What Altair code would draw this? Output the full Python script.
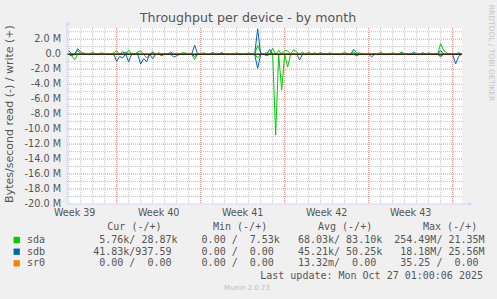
import altair as alt
import pandas as pd

# ---------------- data ----------------
# samples every 6 h; day 0 = Mon Sep 29 (start of Week 40)
T0 = -4.0
DT = 0.25

sda_write = [
    0, 0, 0, 0.5, 0, 0.2, 0, 0, 0.3, 0, 0, 0.2,
    0, 0, 0, 0.2, 0.45, 0, 0, 0, 0.55, 0, 0, 0.3,
    0.45, 0, 0, 0, 0.3, 0, 0.2, 0, 0, 0, 0, 0,
    0, 0, 0.2, 0.15, 0, 0, 0, 0, 0, 0.2, 0, 0,
    0.2, 0, 0, 0.15, 0, 0, 0, 0, 0.2, 0, 0, 0,
    0.2, 0, 0, 1.2, 0.2, 0, 0.2, 0, 0.8, 0, 0.5, 0,
    0.5, 0.45, 0, 0.6, 0.3, 0, 0.3, 0, 0.3, 0, 0.2, 0,
    0, 0, 0, 0.2, 0, 0, 0, 0, 0.3, 0, 0, 0.3,
    0, 0.2, 0, 0, 0, 0, 0, 0, 0.3, 0, 0, 0,
    0.2, 0, 0, 0.3, 0, 0, 0, 0, 0, 0, 0, 0,
    0.2, 0, 0, 0, 1.4, 0.5, 0.2, 0, 0, 0, 0, 0,
]
sda_read = [
    0, -0.2, -0.75, 0, 0, 0, 0, 0, 0, 0, 0, 0,
    0, 0, 0, 0, 0, 0, 0, 0, 0, 0, 0, 0,
    0, 0, -0.5, 0, 0, 0, 0, 0, 0, 0, 0, 0,
    0, 0, 0, 0, 0, 0, -0.7, 0, 0, 0, 0, 0,
    0, 0, 0, 0, 0, 0, 0, 0, 0, 0, 0, 0,
    0, 0, 0, -0.5, 0, 0, 0, 0, 0, -10.8, 0, -4.8,
    0, -1.7, 0, 0, 0, 0, 0, 0, 0, 0, 0, 0,
    0, 0, 0, 0, 0, 0, 0, 0, 0, 0, 0, 0,
    0, 0, 0, 0, 0, 0, 0, 0, 0, 0, 0, 0,
    0, 0, 0, 0, 0, 0, 0, 0, 0, 0, 0, 0,
    0, 0, 0, 0, -0.4, 0, 0, 0, 0, 0, 0, 0,
]
sdb_write = [
    0.5, 0, 0, 0.75, 0.3, 0, 0, 0, 0, 0, 0, 0,
    0, 0, 0, 0, 0, 0, 0.3, 0.2, 0, 0, 0, 0.15,
    0, 0, 0, 0, 0.2, 0, 0, 0, 0, 0, 0.3, 0,
    0, 0, 0, 0, 0, 0, 1.2, 0, 0, 0, 0, 0,
    0.2, 0, 0, 0.22, 0, 0, 0, 0, 0, 0, 0, 0,
    0, 0, 0, 3.4, 0, 0, 0, 0.65, 0, 0, 0, 0,
    0, 0, 0, 0, 0, 0, 0, 0, 0, 0, 0, 0,
    0.2, 0, 0, 0, 0, 0, 0, 0, 0, 0, 0, 0.65,
    0.2, 0, 0, 0, 0, 0, 0, 0, 0, 0, 0, 0,
    0, 0, 0, 0.2, 0, 0, 0, 0.3, 0, 0, 0.2, 0,
    0, 0, 0, 0, 0.5, 0, 0, 0, 0, 0, 0.2, 0,
]
sdb_read = [
    0, -0.2, 0, 0, 0, 0, 0, 0, 0, 0, 0, 0,
    0, 0, 0, 0, -0.95, -0.3, -0.5, 0, -1.0, 0, 0, 0,
    -1.3, -0.6, -1.0, 0, -0.6, 0, 0, -0.2, 0, 0, 0, -0.4,
    -0.2, 0, 0, 0, 0, 0, -0.3, 0, 0, 0, 0, 0,
    0, 0, 0, 0, 0, 0, 0, 0, 0, 0, 0, 0,
    0, 0, 0, -1.9, 0, 0, -0.2, 0, 0, 0, 0, 0,
    0, 0, 0, 0, 0, -0.75, 0, 0, 0, 0, 0, 0,
    0, 0, 0, 0, 0, 0, 0, 0, 0, 0, 0, 0,
    -0.2, 0, 0, 0, 0, -0.35, 0, 0, 0, 0, 0, 0,
    0, 0, 0, 0, 0, 0, 0, 0, 0, 0, 0, 0,
    0, 0, 0, 0, -0.2, 0, 0, 0, 0, -1.3, -0.3, 0,
]
sr0_write = [0.0] * 132
sr0_read = [0.0] * 132

devices = ["sda", "sdb", "sr0"]
device_colors = ["#00CC00", "#0066B3", "#FF8000"]

y_tick_values = [2, 0, -2, -4, -6, -8, -10, -12, -14, -16, -18, -20]
y_tick_labels = ["2.0 M", "0.0", "-2.0 M", "-4.0 M", "-6.0 M", "-8.0 M", "-10.0 M",
                 "-12.0 M", "-14.0 M", "-16.0 M", "-18.0 M", "-20.0 M"]
y_minor_grid = [3, 1, -1, -3, -5, -7, -9, -11, -13, -15, -17, -19]
y_major_grid = [2, -2, -4, -6, -8, -10, -12, -14, -16, -18]
x_minor_grid = list(range(-4, 29))
x_major_grid = [0, 7, 14, 21, 28]
week_label_days = [-3.5, 3.5, 10.5, 17.5, 24.5]
week_labels = ["Week 39", "Week 40", "Week 41", "Week 42", "Week 43"]

legend_names = ["sda", "sdb", "sr0"]
cur_vals = ["  5.76k/ 28.87k", " 41.83k/937.59 ", "  0.00 /  0.00 "]
min_vals = ["  0.00 /  7.53k", "  0.00 /  0.00 ", "  0.00 /  0.00 "]
avg_vals = [" 68.03k/ 83.10k", " 45.21k/ 50.25k", " 13.32m/  0.00 "]
max_vals = ["254.49M/ 21.35M", " 18.18M/ 25.56M", " 35.25 /  0.00 "]
headers = ["Cur (-/+)", "Min (-/+)", "Avg (-/+)", "Max (-/+)"]
last_update = "Last update: Mon Oct 27 01:00:06 2025"

# ---------------- build table ----------------
series = [("sda", "write", sda_write), ("sda", "read", sda_read),
          ("sdb", "write", sdb_write), ("sdb", "read", sdb_read),
          ("sr0", "write", sr0_write), ("sr0", "read", sr0_read)]
rows = []
for dev, direction, vals in series:
    for i, v in enumerate(vals):
        rows.append({"day": T0 + DT * i, "value": v, "device": dev, "dir": direction})
df = pd.DataFrame(rows)

W, H = 395, 176
xs = alt.Scale(domain=[-4.14, 28.78], nice=False, zero=False)
ys = alt.Scale(domain=[-20, 3.5], nice=False, zero=False)
AXIS_COL = "#CFD6F8"
FONT = "DejaVu Sans"
MONO = "DejaVu Sans Mono"
TXT = "#555555"


def one():
    return pd.DataFrame({"a": [0]})


layers = []
layers.append(alt.Chart(pd.DataFrame({"d": x_minor_grid})).mark_rule(
    color="#c2c2c2", strokeDash=[1, 1], strokeWidth=1).encode(
    x=alt.X("d:Q", scale=xs, axis=None)))
layers.append(alt.Chart(pd.DataFrame({"v": y_minor_grid})).mark_rule(
    color="#c2c2c2", strokeDash=[1, 1], strokeWidth=1).encode(
    y=alt.Y("v:Q", scale=ys, axis=None)))
layers.append(alt.Chart(pd.DataFrame({"d": x_major_grid})).mark_rule(
    color="#f09090", strokeDash=[1, 1], strokeWidth=1).encode(
    x=alt.X("d:Q", scale=xs, axis=None)))
layers.append(alt.Chart(pd.DataFrame({"v": y_major_grid})).mark_rule(
    color="#f09090", strokeDash=[1, 1], strokeWidth=1).encode(
    y=alt.Y("v:Q", scale=ys, axis=None)))

layers.append(alt.Chart(df).mark_line(strokeWidth=1).encode(
    x=alt.X("day:Q", scale=xs, axis=None),
    y=alt.Y("value:Q", scale=ys, axis=None),
    color=alt.Color("device:N", scale=alt.Scale(domain=devices, range=device_colors), legend=None),
    detail="dir:N"))

layers.append(alt.Chart(pd.DataFrame({"v": [0.0]})).mark_rule(
    color="#000000", strokeWidth=1).encode(y=alt.Y("v:Q", scale=ys, axis=None)))

# axis lines + arrows
layers.append(alt.Chart(one()).mark_rule(color=AXIS_COL, strokeWidth=1).encode(
    x=alt.value(0), y=alt.value(-4), y2=alt.value(H)))
layers.append(alt.Chart(one()).mark_rule(color=AXIS_COL, strokeWidth=1).encode(
    x=alt.value(0), x2=alt.value(402), y=alt.value(H)))
layers.append(alt.Chart(one()).mark_point(shape="triangle-up", filled=True, size=22,
                                          color=AXIS_COL, opacity=1).encode(
    x=alt.value(0.5), y=alt.value(-4.5)))
layers.append(alt.Chart(one()).mark_point(shape="triangle-right", filled=True, size=22,
                                          color=AXIS_COL, opacity=1).encode(
    x=alt.value(403.5), y=alt.value(H)))

# tick labels
layers.append(alt.Chart(pd.DataFrame({"v": y_tick_values, "lab": y_tick_labels})).mark_text(
    align="right", baseline="middle", font=FONT, fontSize=9.7, color=TXT).encode(
    y=alt.Y("v:Q", scale=ys, axis=None), x=alt.value(-6), text="lab:N"))
layers.append(alt.Chart(pd.DataFrame({"d": week_label_days, "lab": week_labels})).mark_text(
    align="center", baseline="middle", font=FONT, fontSize=9.6, color=TXT).encode(
    x=alt.X("d:Q", scale=xs, axis=None), y=alt.value(184.7), text="lab:N"))

# titles
layers.append(alt.Chart(one()).mark_text(
    text="Throughput per device - by month", align="center", baseline="middle",
    font=FONT, fontSize=12.6, color=TXT).encode(x=alt.value(181), y=alt.value(-10)))
layers.append(alt.Chart(one()).mark_text(
    text="Bytes/second read (-) / write (+)", align="center", baseline="middle",
    angle=270, font=FONT, fontSize=11, color=TXT).encode(x=alt.value(-57), y=alt.value(86)))
layers.append(alt.Chart(one()).mark_text(
    text="RRDTOOL / TOBI OETIKER", align="center", baseline="middle",
    angle=90, font=FONT, fontSize=7.5, color="#c4c4c4").encode(x=alt.value(424), y=alt.value(25)))
layers.append(alt.Chart(one()).mark_text(
    text="Munin 2.0.73", align="center", baseline="middle",
    font=FONT, fontSize=7, color="#bbbbbb").encode(x=alt.value(180), y=alt.value(260)))

# legend table
NB = "\u00a0"
header_x = [40.3, 146, 251, 356]
for hx, htxt in zip(header_x, headers):
    layers.append(alt.Chart(one()).mark_text(
        text=htxt.replace(" ", NB), align="left", baseline="middle",
        font=MONO, fontSize=10, color=TXT).encode(x=alt.value(hx), y=alt.value(198.7)))

row_y = [212, 223.7, 235.3]
for k in range(3):
    row = legend_names[k].ljust(10) + cur_vals[k] + "  " + min_vals[k] + "  " + avg_vals[k] + "  " + max_vals[k]
    layers.append(alt.Chart(one()).mark_text(
        text=row.replace(" ", NB), align="left", baseline="middle",
        font=MONO, fontSize=10, color=TXT).encode(x=alt.value(-40), y=alt.value(row_y[k])))
    layers.append(alt.Chart(one()).mark_square(
        filled=True, size=40, color=device_colors[k], opacity=1).encode(
        x=alt.value(-50.3), y=alt.value(row_y[k])))

layers.append(alt.Chart(one()).mark_text(
    text=last_update.replace(" ", NB), align="right", baseline="middle",
    font=MONO, fontSize=10, color=TXT).encode(x=alt.value(416), y=alt.value(247.7)))

chart = alt.layer(*layers).properties(
    width=W, height=H,
    background="#F0F0F0",
    padding={"left": 67, "top": 28, "right": 35, "bottom": 95},
    autosize=alt.AutoSizeParams(type="none"),
).configure_view(fill="white", strokeWidth=0)

chart.save("out.html", embed_options={"renderer": "svg", "actions": False})
